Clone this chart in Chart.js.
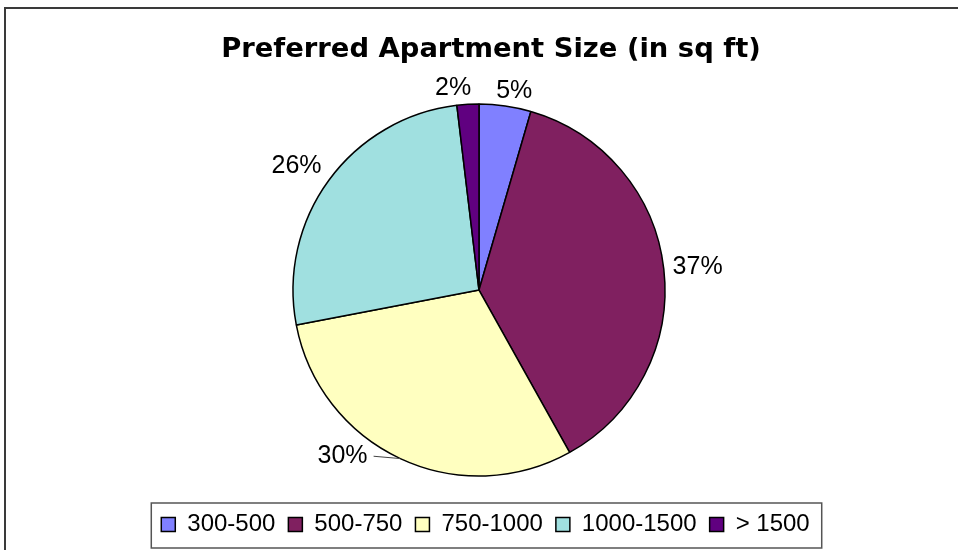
<!DOCTYPE html>
<html><head><meta charset="utf-8">
<script src="https://cdn.jsdelivr.net/npm/chart.js@4"></script>
<style>html,body{margin:0;padding:0;background:#fff;overflow:hidden}#wrap{width:958px;height:550px;position:relative}</style>
</head><body><div id="wrap"><canvas id="c" width="958" height="550"></canvas></div>
<script>
const titleText = 'Preferred Apartment Size (in sq ft)';
const categories = ['300-500', '500-750', '750-1000', '1000-1500', '> 1500'];
const shares = [4.5, 37.4, 30.1, 26.1, 1.9];
const sliceColors = ['#8080FF', '#802060', '#FFFFC0', '#A0E0E0', '#600080'];
const labelShiftDeg = [1.5, 0, 12.3, 0, -3.6];
const labelExtraGap = [-2, 0, 5, 6, -1];
const leaderLine = [false, false, true, false, false];

const percentLabels = shares.map(v => Math.round(v) + '%');
const FONT = '"Liberation Sans", Arial, Helvetica, sans-serif';

const framePlugin = {
  id: 'frame',
  beforeDraw(chart) {
    const ctx = chart.ctx;
    ctx.save();
    ctx.fillStyle = '#fff';
    ctx.fillRect(0, 0, chart.width, chart.height);
    ctx.strokeStyle = '#3a3a3a';
    ctx.lineWidth = 2;
    ctx.beginPath();
    ctx.moveTo(5, chart.height + 2);
    ctx.lineTo(5, 8);
    ctx.lineTo(chart.width + 2, 8);
    ctx.stroke();
    ctx.restore();
  }
};

const boxShift = {
  id: 'boxShift',
  afterLayout(chart) {
    chart.legend.left += 6.5;
    chart.legend.right += 6.5;
    if (chart.titleBlock) {
      chart.titleBlock.left += 12;
      chart.titleBlock.right += 12;
    }
  }
};

const legendFrame = {
  id: 'legendFrame',
  afterDraw(chart) {
    const hb = chart.legend.legendHitBoxes;
    if (!hb || !hb.length) return;
    const first = hb[0], last = hb[hb.length - 1];
    const ctx = chart.ctx;
    ctx.save();
    ctx.strokeStyle = '#555';
    ctx.lineWidth = 1.5;
    const l = first.left - 10, r = last.left + last.width + 12;
    const t = first.top - 9.5, b = first.top + first.height + 11.5;
    ctx.strokeRect(l, t, r - l, b - t);
    ctx.restore();
  }
};

const sliceLabels = {
  id: 'sliceLabels',
  afterDatasetsDraw(chart) {
    const ctx = chart.ctx;
    const meta = chart.getDatasetMeta(0);
    ctx.save();
    ctx.font = '25px ' + FONT;
    ctx.fillStyle = '#000';
    ctx.textAlign = 'center';
    ctx.textBaseline = 'middle';
    meta.data.forEach((arc, i) => {
      const p = arc.getProps(['x', 'y', 'startAngle', 'endAngle', 'outerRadius'], true);
      const mid = (p.startAngle + p.endAngle) / 2;
      const a = mid + labelShiftDeg[i] * Math.PI / 180;
      const txt = percentLabels[i];
      const w = ctx.measureText(txt).width, h = 18;
      const d = p.outerRadius + 9 + labelExtraGap[i];
      const cx = p.x + (d + w / 2) * Math.cos(a);
      const cy = p.y + (d + h / 2) * Math.sin(a);
      ctx.fillText(txt, cx, cy);
      if (leaderLine[i]) {
        const ax = p.x + p.outerRadius * Math.cos(mid);
        const ay = p.y + p.outerRadius * Math.sin(mid);
        const ex = Math.cos(a) < 0 ? cx + w / 2 + 6 : cx - w / 2 - 6;
        ctx.save();
        ctx.strokeStyle = '#444';
        ctx.lineWidth = 1;
        ctx.beginPath();
        ctx.moveTo(ex, cy);
        ctx.lineTo(ax, ay);
        ctx.stroke();
        ctx.restore();
      }
    });
    ctx.restore();
  }
};

new Chart(document.getElementById('c'), {
  type: 'pie',
  data: {
    labels: categories,
    datasets: [{
      data: shares,
      backgroundColor: sliceColors,
      borderColor: '#000',
      borderWidth: 1.5,
      radius: 186
    }]
  },
  options: {
    responsive: false,
    animation: false,
    layout: { padding: { top: 0, bottom: 3.5, left: 0, right: 0 } },
    plugins: {
      title: {
        display: true,
        text: titleText,
        color: '#000',
        font: { family: '"DejaVu Sans", Verdana, sans-serif', size: 27.4, weight: 'bold', lineHeight: 1.2 },
        padding: { top: 33.3, bottom: 14.4 }
      },
      tooltip: { enabled: false },
      legend: {
        position: 'bottom',
        labels: {
          boxWidth: 14,
          boxHeight: 14,
          padding: 13,
          color: '#000',
          font: { family: FONT, size: 24 }
        }
      }
    }
  },
  plugins: [framePlugin, boxShift, sliceLabels, legendFrame]
});
</script>
</body></html>
